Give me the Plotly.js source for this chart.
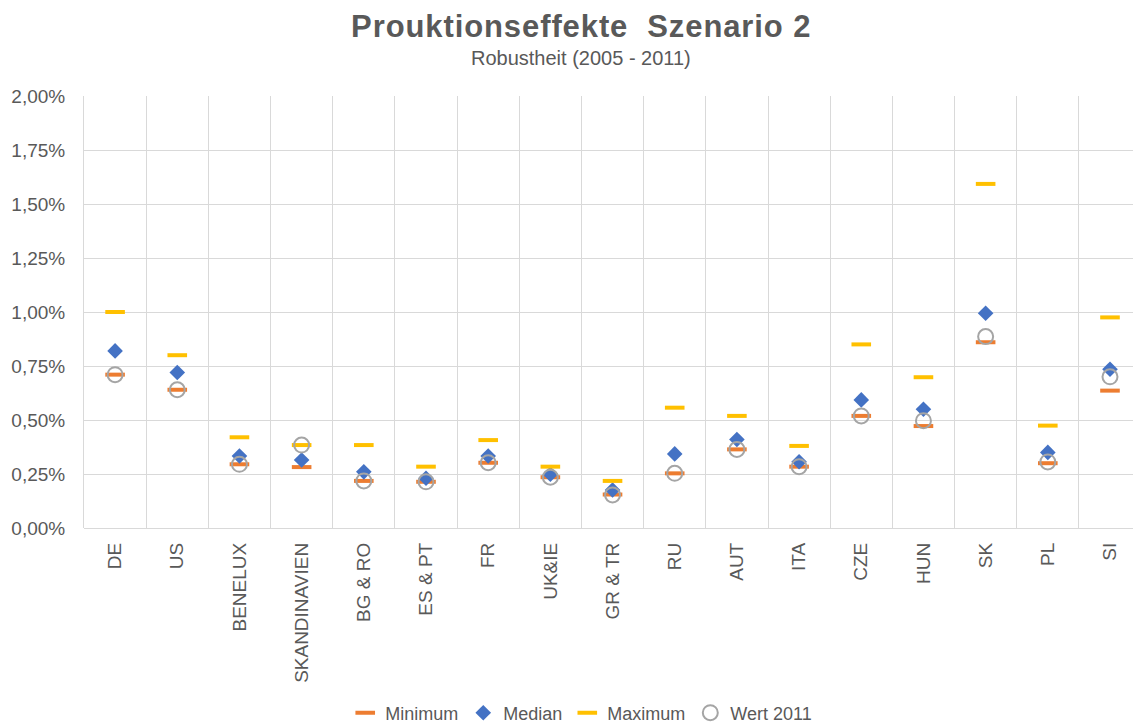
<!DOCTYPE html>
<html>
<head>
<meta charset="utf-8">
<script src="https://cdn.plot.ly/plotly-3.0.1.min.js"></script>
<style>
  html, body { margin: 0; padding: 0; background: #ffffff; }
  #chart { width: 1133px; height: 726px; }
  /* the original title is set a little wider */
  #chart .gtitle { letter-spacing: 0.9px; }
</style>
</head>
<body>
<div id="chart"></div>
<script>
// regions on the category axis
const regions = ['DE', 'US', 'BENELUX', 'SKANDINAVIEN', 'BG & RO', 'ES & PT', 'FR', 'UK&IE',
    'GR & TR', 'RU', 'AUT', 'ITA', 'CZE', 'HUN', 'SK', 'PL', 'SI'];

// values (share, 0.01 = 1%)
const minimum = [0.0071, 0.0064, 0.00295, 0.00282, 0.00218, 0.00214, 0.00302, 0.00235,
    0.00155, 0.00253, 0.00364, 0.00284, 0.00519, 0.00472, 0.0086, 0.0030, 0.00636];
const median = [0.0082, 0.0072, 0.00333, 0.00315, 0.0026, 0.0023, 0.00333, 0.00249,
    0.00176, 0.00343, 0.0041, 0.00307, 0.00593, 0.0055, 0.00994, 0.0035, 0.00735];
const maximum = [0.0100, 0.0080, 0.0042, 0.00384, 0.00384, 0.00284, 0.00407, 0.00284,
    0.00218, 0.00557, 0.00519, 0.0038, 0.0085, 0.00698, 0.01593, 0.00474, 0.00975];
const wert2011 = [0.0071, 0.0064, 0.00295, 0.00384, 0.00218, 0.00214, 0.00302, 0.00235,
    0.00153, 0.00253, 0.00364, 0.00284, 0.00519, 0.00497, 0.00886, 0.00306, 0.0070];

const textColor = '#595959';
const gridColor = '#d9d9d9';

var traceMin = {
    x: regions,
    y: minimum,
    mode: 'markers',
    type: 'scatter',
    name: 'Minimum',
    marker: { symbol: 'line-ew', size: 14, color: '#ed7d31', line: { color: '#ed7d31', width: 4 } }
};
var traceMedian = {
    x: regions,
    y: median,
    mode: 'markers',
    type: 'scatter',
    name: 'Median',
    marker: { symbol: 'diamond', size: 12, color: '#4472c4', line: { width: 0 } }
};
var traceMax = {
    x: regions,
    y: maximum,
    mode: 'markers',
    type: 'scatter',
    name: 'Maximum',
    marker: { symbol: 'line-ew', size: 14, color: '#ffc000', line: { color: '#ffc000', width: 4 } }
};
var traceWert = {
    x: regions,
    y: wert2011,
    mode: 'markers',
    type: 'scatter',
    name: 'Wert 2011',
    marker: { symbol: 'circle-open', size: 15, color: '#a5a5a5', line: { color: '#a5a5a5', width: 2 } }
};

var layout = {
    width: 1133,
    height: 726,
    paper_bgcolor: '#ffffff',
    plot_bgcolor: '#ffffff',
    separators: ',.',
    font: { family: 'Liberation Sans, Arial, sans-serif', color: textColor, size: 19 },
    margin: { l: 84, r: 0, t: 96, b: 198 },
    title: {
        text: '<b>Prouktionseffekte&nbsp; Szenario 2</b>',
        font: { size: 31, color: textColor },
        x: 0.513, xref: 'container', xanchor: 'center',
        y: 1 - 26 / 726, yref: 'container', yanchor: 'middle'
    },
    annotations: [{
        text: 'Robustheit (2005 - 2011)',
        xref: 'paper', yref: 'paper',
        x: 0.474, y: 1.088,
        xanchor: 'center', yanchor: 'middle',
        showarrow: false,
        font: { size: 20, color: textColor }
    }],
    xaxis: {
        type: 'category',
        range: [-0.5, 16.37],
        tickson: 'boundaries',
        showgrid: true,
        gridcolor: gridColor,
        gridwidth: 1,
        ticks: '',
        tickangle: -90,
        ticklabelstandoff: 10,
        tickfont: { size: 19, color: textColor },
        showline: false,
        zeroline: false
    },
    yaxis: {
        range: [0, 0.02],
        tickvals: [0, 0.0025, 0.005, 0.0075, 0.01, 0.0125, 0.015, 0.0175, 0.02],
        tickformat: '.2%',
        showgrid: true,
        gridcolor: gridColor,
        gridwidth: 1,
        zeroline: true,
        zerolinecolor: gridColor,
        zerolinewidth: 1,
        showline: true,
        linecolor: gridColor,
        ticks: '',
        ticklabelstandoff: 14,
        tickfont: { size: 19, color: textColor }
    },
    showlegend: true,
    legend: {
        orientation: 'h',
        x: 0.513, xref: 'container', xanchor: 'center',
        y: 13 / 726, yref: 'container', yanchor: 'middle',
        font: { size: 18, color: textColor },
        itemwidth: 30,
        tracegroupgap: 0
    }
};

Plotly.newPlot('chart', [traceMin, traceMedian, traceMax, traceWert], layout, { displayModeBar: false });
</script>
</body>
</html>
